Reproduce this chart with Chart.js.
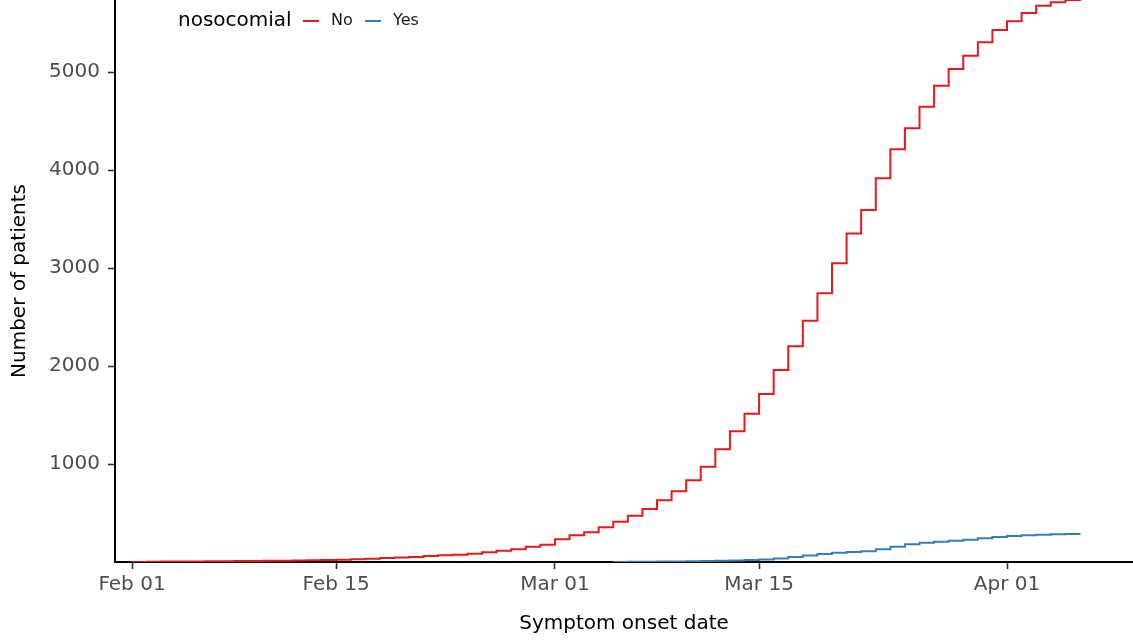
<!DOCTYPE html>
<html>
<head>
<meta charset="utf-8">
<script src="https://cdn.jsdelivr.net/npm/chart.js@4"></script>
<style>
  body { margin: 0; background: #fff; }
</style>
</head>
<body>
<canvas id="chart1" width="1133" height="641"></canvas>
<script>
// day 0 = 2020-02-01, one value per day (cumulative patients)
var firstDay = '2020-02-01';
var noValues = [1, 2, 4, 5, 6, 7, 8, 9, 10, 12, 14, 16, 18, 21, 24, 28, 33, 40, 47, 52,
    60, 68, 75, 85, 99, 115, 130, 156, 175, 232, 272, 303, 354, 411, 472, 541, 630, 721, 835, 973,
    1150, 1334, 1513, 1714, 1959, 2201, 2462, 2742, 3048, 3352, 3592, 3915, 4211, 4425, 4646, 4860,
    5031, 5166, 5303, 5429, 5517, 5602, 5677, 5711, 5735, 5745, 5750];
var yesStart = 33;
var yesValues = [1, 2, 3, 4, 5, 7, 9, 12, 15, 20, 25, 36, 50, 66, 82, 95, 102, 109, 129, 156,
    180, 197, 207, 218, 228, 242, 255, 265, 272, 279, 282, 286, 288];
var tickDays = [0, 14, 29, 43, 60];
var tickLabels = ['Feb 01', 'Feb 15', 'Mar 01', 'Mar 15', 'Apr 01'];
var yTicks = [1000, 2000, 3000, 4000, 5000];

var red = '#E41A1C';
var blue = '#377EB8';
var font = 'DejaVu Sans';

var noPoints = noValues.map(function (v, i) { return { x: i, y: v }; });
var yesPoints = yesValues.map(function (v, i) { return { x: yesStart + i, y: v }; });

// legend drawn inline like ggplot's top-left legend
var legendPlugin = {
    id: 'inlineLegend',
    afterDraw: function (chart) {
        var ctx = chart.ctx;
        var y = 21;
        ctx.save();
        ctx.textBaseline = 'middle';
        ctx.fillStyle = '#000';
        ctx.font = '20px "' + font + '"';
        ctx.fillText('nosocomial', 178, y);
        var items = [['No', red, 303], ['Yes', blue, 365]];
        items.forEach(function (it) {
            ctx.strokeStyle = it[1];
            ctx.lineWidth = 2;
            ctx.beginPath();
            ctx.moveTo(it[2], y);
            ctx.lineTo(it[2] + 16, y);
            ctx.stroke();
            ctx.fillStyle = '#1a1a1a';
            ctx.font = '16px "' + font + '"';
            ctx.fillText(it[0], it[2] + 28, y);
        });
        ctx.restore();
    }
};

var chartCanvas1 = document.getElementById('chart1');
var configCanvas1 = {
    type: 'line',
    data: {
        datasets: [{
            label: 'No',
            data: noPoints,
            borderColor: red,
            borderWidth: 2,
            stepped: true,
            pointRadius: 0,
            fill: false
        }, {
            label: 'Yes',
            data: yesPoints,
            borderColor: blue,
            borderWidth: 2,
            stepped: true,
            pointRadius: 0,
            fill: false
        }]
    },
    options: {
        responsive: false,
        animation: false,
        layout: { padding: 0 },
        plugins: { legend: { display: false }, tooltip: { enabled: false } },
        scales: {
            x: {
                type: 'linear',
                min: -1.166,
                max: 68.64,
                afterBuildTicks: function (s) {
                    s.ticks = tickDays.map(function (d) { return { value: d }; });
                },
                afterFit: function (s) { s.height = 79; s.paddingLeft = 0; s.paddingRight = 0; },
                ticks: {
                    autoSkip: false,
                    maxRotation: 0,
                    padding: 4,
                    color: '#4d4d4d',
                    font: { family: font, size: 20 },
                    callback: function (v) {
                        var i = tickDays.indexOf(v);
                        return i >= 0 ? tickLabels[i] : '';
                    }
                },
                grid: { drawOnChartArea: false, tickLength: 7, tickColor: '#333', tickWidth: 1.6 },
                border: { color: '#000', width: 2 },
                title: {
                    display: true,
                    text: 'Symptom onset date',
                    color: '#000',
                    font: { family: font, size: 20 },
                    padding: { top: 0, bottom: 5 }
                }
            },
            y: {
                min: 0,
                max: 5735,
                afterBuildTicks: function (s) {
                    s.ticks = yTicks.map(function (v) { return { value: v }; });
                },
                afterFit: function (s) { s.width = 115; s.paddingTop = 0; s.paddingBottom = 0; },
                ticks: {
                    padding: 8,
                    color: '#4d4d4d',
                    font: { family: font, size: 20 },
                    callback: function (v) { return String(v); }
                },
                grid: { drawOnChartArea: false, tickLength: 7, tickColor: '#333', tickWidth: 1.6 },
                border: { color: '#000', width: 2 },
                title: {
                    display: true,
                    text: 'Number of patients',
                    color: '#000',
                    font: { family: font, size: 20 },
                    padding: { top: 8, bottom: 0 }
                }
            }
        }
    },
    plugins: [legendPlugin]
};

var myChart1 = new Chart(chartCanvas1, configCanvas1);
</script>
</body>
</html>
